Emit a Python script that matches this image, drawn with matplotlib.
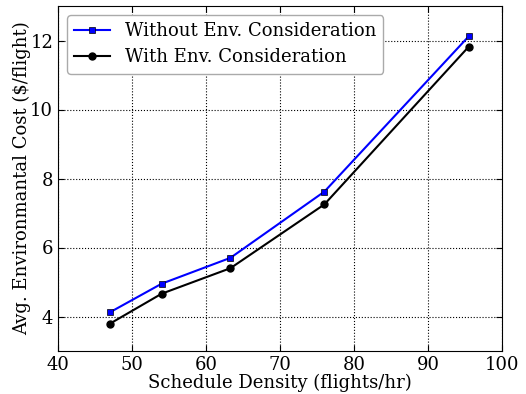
import matplotlib
matplotlib.use("Agg")
import matplotlib.pyplot as plt

density = [47, 54, 63.3, 76, 95.5]
cost_without = [4.12, 4.95, 5.70, 7.62, 12.12]
cost_with = [3.79, 4.66, 5.40, 7.25, 11.82]

plt.rcParams['font.family'] = 'DejaVu Serif'
plt.rcParams['xtick.direction'] = 'in'
plt.rcParams['ytick.direction'] = 'in'

fig = plt.figure(figsize=(5.26, 3.94), dpi=100)
ax = fig.add_axes([58/526, 1-351/394, (502-58)/526, (351-6)/394])
ax.plot(density, cost_without, color='blue', marker='s', markersize=5,
        markeredgecolor='black', markeredgewidth=0.5, lw=1.5,
        label='Without Env. Consideration')
ax.plot(density, cost_with, color='black', marker='o', markersize=5,
        lw=1.5, label='With Env. Consideration')
ax.set_xlim(40, 100)
ax.set_ylim(3, 13)
ax.set_xticks(range(40, 101, 10))
ax.set_yticks([4, 6, 8, 10, 12])
ax.tick_params(labelsize=13, top=True, right=True, length=4)
ax.grid(True, linestyle=':', color='black', lw=0.8)
ax.set_xlabel('Schedule Density (flights/hr)', fontsize=13, labelpad=0)
ax.set_ylabel('Avg. Environmantal Cost ($/flight)', fontsize=13, labelpad=-1)
ax.legend(loc='upper left', fontsize=13, handlelength=2, borderpad=0.4,
          labelspacing=0.45, framealpha=1, edgecolor='#aaaaaa')
fig.savefig('out.png', dpi=100)
